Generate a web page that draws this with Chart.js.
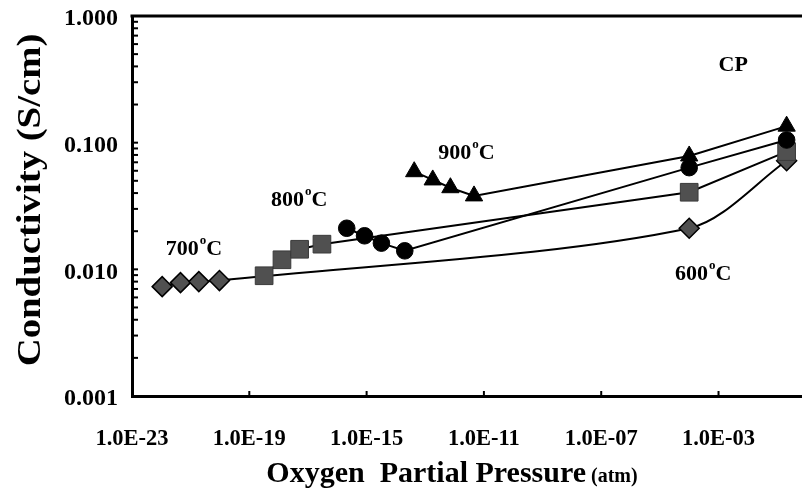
<!DOCTYPE html>
<html><head><meta charset="utf-8">
<script src="https://cdn.jsdelivr.net/npm/chart.js@4/dist/chart.umd.min.js"></script>
<style>
html,body{margin:0;padding:0;overflow:hidden;background:#fff;width:802px;height:492px}
#wrap{position:absolute;left:0;top:0;width:820px;height:492px}
</style>
</head><body><div id="wrap"><canvas id="c" width="820" height="492"></canvas></div>
<script>
// ---- data (pO2 in atm, conductivity in S/cm) ----
const pO2Diamond = [1.07e-22, 4.5e-22, 1.9e-21, 9.6e-21, 1e-4, 0.21];
const sigmaDiamond = [0.0073, 0.00785, 0.0080, 0.00815, 0.0211, 0.072];
const pO2Square = [3.2e-19, 1.3e-18, 5.2e-18, 3.0e-17, 1e-4, 0.21];
const sigmaSquare = [0.0089, 0.0119, 0.0144, 0.0158, 0.0406, 0.085];
const pO2Circle = [2.1e-16, 8.5e-16, 3.2e-15, 2.0e-14, 1e-4, 0.21];
const sigmaCircle = [0.0211, 0.0184, 0.0161, 0.0140, 0.0635, 0.105];
const pO2Triangle = [4.2e-14, 1.8e-13, 7.2e-13, 4.6e-12, 1e-4, 0.21];
const sigmaTriangle = [0.059, 0.0508, 0.0441, 0.038, 0.0785, 0.135];

const xTickValues = [1e-23, 1e-19, 1e-15, 1e-11, 1e-7, 1e-3];
const xTickLabels = ['1.0E-23', '1.0E-19', '1.0E-15', '1.0E-11', '1.0E-07', '1.0E-03'];
const yTickValues = [0.001, 0.01, 0.1, 1];
const yTickLabels = ['0.001', '0.010', '0.100', '1.000'];

const tempLabels = ['700', '800', '900', '600'];
const tempLabelX = [1.42e-22, 5.45e-19, 2.75e-13, 3.3e-5];
const tempLabelY = [0.0130, 0.0317, 0.0737, 0.00825];
const cpLabel = 'CP';
const cpLabelX = 1e-3;
const cpLabelY = 0.368;
const xTitleMain = 'Oxygen  Partial Pressure';
const xTitleUnit = '(atm)';
const yTitle = 'Conductivity (S/cm)';

const SERIF = '"Liberation Serif", "Times New Roman", serif';
const PLOT_TOP = 16, PLOT_LEFT = 132, PLOT_BOTTOM = 396, PLOT_RIGHT = 810.5;

function pts(xs, ys) { return xs.map((x, i) => ({x: x, y: ys[i]})); }
function noPad(s) { s.paddingTop = 0; s.paddingBottom = 0; s.paddingLeft = 0; s.paddingRight = 0; }

const decor = {
  id: 'decor',
  afterDatasetsDraw(chart) {
    const ctx = chart.ctx, a = chart.chartArea;
    const xs = chart.scales.x, ys = chart.scales.y;
    ctx.save();
    ctx.strokeStyle = '#000';
    // top frame line
    ctx.lineWidth = 3;
    ctx.beginPath(); ctx.moveTo(a.left - 1.5, a.top); ctx.lineTo(a.right + 20, a.top); ctx.stroke();
    // inward y ticks (major + minor)
    ctx.lineWidth = 2;
    for (let d = -3; d <= 0; d++) {
      for (let m = 1; m <= 9; m++) {
        const v = m * Math.pow(10, d);
        if (v > 1.0000001) break;
        const py = ys.getPixelForValue(v);
        ctx.beginPath(); ctx.moveTo(a.left, py); ctx.lineTo(a.left + 6, py); ctx.stroke();
      }
    }
    // inward x major ticks
    xTickValues.forEach(v => {
      const px = xs.getPixelForValue(v);
      ctx.beginPath(); ctx.moveTo(px, a.bottom); ctx.lineTo(px, a.bottom - 5); ctx.stroke();
    });
    // temperature labels
    ctx.fillStyle = '#000';
    ctx.textBaseline = 'alphabetic';
    ctx.textAlign = 'left';
    tempLabels.forEach((t, i) => {
      let px = xs.getPixelForValue(tempLabelX[i]);
      const py = ys.getPixelForValue(tempLabelY[i]);
      ctx.font = 'bold 22px ' + SERIF;
      ctx.fillText(t, px, py);
      px += ctx.measureText(t).width + 1;
      ctx.font = 'bold 13px ' + SERIF;
      ctx.fillText('o', px, py - 11);
      px += ctx.measureText('o').width;
      ctx.font = 'bold 22px ' + SERIF;
      ctx.fillText('C', px, py);
    });
    ctx.font = 'bold 22px ' + SERIF;
    ctx.fillText(cpLabel, xs.getPixelForValue(cpLabelX), ys.getPixelForValue(cpLabelY));
    // y axis title (slightly stretched along its length, as in the reference)
    ctx.save();
    ctx.translate(31, (a.top + a.bottom) / 2 - 6);
    ctx.rotate(-Math.PI / 2);
    ctx.scale(1.14, 1);
    ctx.font = 'bold 34px ' + SERIF;
    ctx.textAlign = 'center';
    ctx.textBaseline = 'middle';
    ctx.fillText(yTitle, 0, 0);
    ctx.restore();
    // x axis title
    ctx.font = 'bold 30px ' + SERIF;
    const w1 = ctx.measureText(xTitleMain).width;
    ctx.font = 'bold 20px ' + SERIF;
    const w2 = ctx.measureText(' ' + xTitleUnit).width;
    let tx = 452 - (w1 + w2) / 2;
    ctx.font = 'bold 30px ' + SERIF;
    ctx.fillText(xTitleMain, tx, 482);
    ctx.font = 'bold 20px ' + SERIF;
    ctx.fillText(' ' + xTitleUnit, tx + w1, 482);
    ctx.restore();
  }
};

const chart = new Chart(document.getElementById('c'), {
  type: 'scatter',
  data: {
    datasets: [
      {label: 'tri', data: pts(pO2Triangle, sigmaTriangle), showLine: true, borderColor: '#000', borderWidth: 2,
       pointStyle: 'triangle', pointRadius: 10, pointBackgroundColor: '#000', pointBorderColor: '#000', pointBorderWidth: 1},
      {label: 'circ', data: pts(pO2Circle, sigmaCircle), showLine: true, borderColor: '#000', borderWidth: 2,
       pointStyle: 'circle', pointRadius: 8.3, pointBackgroundColor: '#000', pointBorderColor: '#000', pointBorderWidth: 1},
      {label: 'sq', data: pts(pO2Square, sigmaSquare), showLine: true, borderColor: '#000', borderWidth: 2,
       pointStyle: 'rect', pointRadius: 12.5, pointBackgroundColor: '#505050', pointBorderColor: '#3a3a3a', pointBorderWidth: 1},
      {label: 'dia', data: pts(pO2Diamond, sigmaDiamond), showLine: true, borderColor: '#000', borderWidth: 2, tension: 0.3,
       pointStyle: 'rectRot', pointRadius: 10, pointBackgroundColor: '#505050', pointBorderColor: '#000', pointBorderWidth: 1.5}
    ]
  },
  options: {
    responsive: false,
    animation: false,
    devicePixelRatio: 1,
    layout: {padding: {left: 0, right: 9.5, top: 16, bottom: 0}},
    plugins: {legend: {display: false}, tooltip: {enabled: false}},
    scales: {
      x: {
        type: 'logarithmic', min: 1e-23, max: 1,
        afterBuildTicks: s => { s.ticks = xTickValues.map(v => ({value: v})); },
        afterFit: s => { s.height = 96; noPad(s); },
        grid: {display: false},
        border: {display: true, color: '#000', width: 3},
        ticks: {
          autoSkip: false, maxRotation: 0, padding: 22, color: '#000',
          font: {family: SERIF, size: 22.5, weight: 'bold'},
          callback: (v, i) => xTickLabels[i]
        }
      },
      y: {
        type: 'logarithmic', min: 0.001, max: 1,
        afterBuildTicks: s => { s.ticks = yTickValues.map(v => ({value: v})); },
        afterFit: s => { s.width = PLOT_LEFT; noPad(s); },
        grid: {display: false},
        border: {display: true, color: '#000', width: 3},
        ticks: {
          autoSkip: false, padding: 6, color: '#000', labelOffset: 3,
          font: {family: SERIF, size: 24, weight: 'bold'},
          callback: (v, i) => yTickLabels[i]
        }
      }
    }
  },
  plugins: [decor]
});
// align plot area to the reference frame
for (let k = 0; k < 4; k++) {
  const pad = chart.options.layout.padding;
  pad.top += PLOT_TOP - chart.chartArea.top;
  pad.right += chart.chartArea.right - PLOT_RIGHT;
  pad.bottom += chart.chartArea.bottom - PLOT_BOTTOM;
  chart.update();
}
</script>
</body></html>
